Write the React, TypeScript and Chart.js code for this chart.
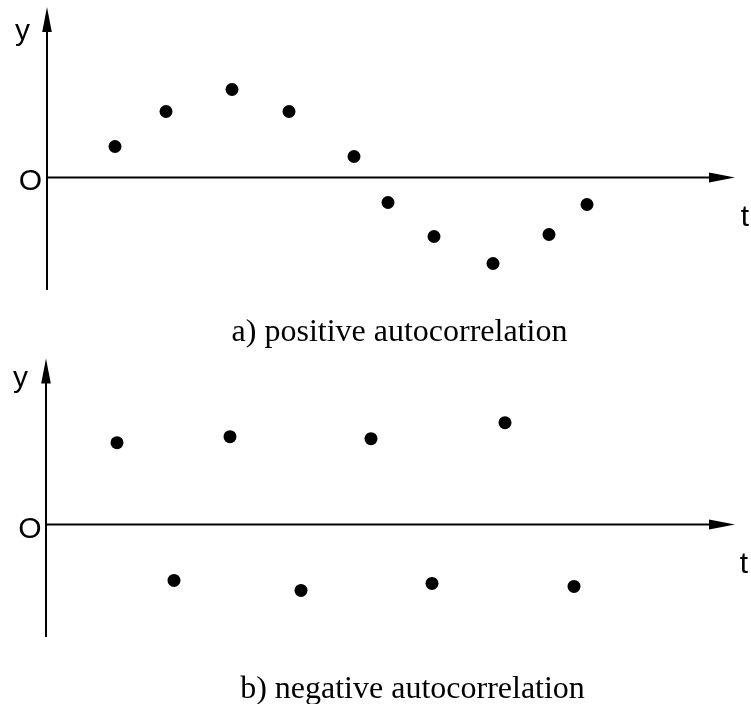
import React, { useEffect, useRef } from "react";
import { Chart, registerables } from "chart.js";

Chart.register(...registerables);

// ---- data ----
const topT = [6.8, 11.9, 18.5, 24.2, 30.7, 34.1, 38.7, 44.6, 50.2, 54.0];
const topY = [3.1, 6.6, 8.8, 6.6, 2.1, -2.5, -5.9, -8.6, -5.7, -2.7];
const bottomT = [7.1, 12.8, 18.4, 25.5, 32.5, 38.6, 45.9, 52.8];
const bottomY = [8.2, -5.6, 8.8, -6.6, 8.6, -5.9, 10.2, -6.2];
const axisLabels = { y: "y", origin: "O", t: "t" };
const titleTop = "a) positive autocorrelation";
const titleBottom = "b) negative autocorrelation";

const W = 751;
const H = 352;

type PanelCfg = {
  t: number[];
  y: number[];
  title: string;
  padding: { left: number; right: number; top: number; bottom: number };
  xMax: number;
  yMin: number;
  yMax: number;
  yLabel: [number, number];
  oLabel: [number, number];
  tLabel: [number, number];
  titlePos: [number, number];
};

const panels: PanelCfg[] = [
  {
    t: topT,
    y: topY,
    title: titleTop,
    padding: { left: 47, right: 16, top: 7, bottom: 62 },
    xMax: 68.8,
    yMin: -11.25,
    yMax: 17.05,
    yLabel: [22.5, 39.5],
    oLabel: [30.5, 190],
    tLabel: [745, 226],
    titlePos: [399.5, 341],
  },
  {
    t: bottomT,
    y: bottomY,
    title: titleBottom,
    padding: { left: 46, right: 16, top: 6, bottom: 67 },
    xMax: 68.9,
    yMin: -11.27,
    yMax: 16.63,
    yLabel: [20.5, 35],
    oLabel: [30, 186],
    tLabel: [744, 221],
    titlePos: [412.5, 346],
  },
];

const axesPlugin = {
  id: "axes",
  afterDraw(chart: any, _args: any, opts: any) {
    const ctx = chart.ctx as CanvasRenderingContext2D;
    const area = chart.chartArea;
    const xs = chart.scales.x;
    const ys = chart.scales.y;
    const x0 = xs.getPixelForValue(0);
    const y0 = ys.getPixelForValue(0);
    ctx.save();
    ctx.strokeStyle = "#000";
    ctx.fillStyle = "#000";
    ctx.lineWidth = 2;
    // y axis
    ctx.beginPath();
    ctx.moveTo(x0, area.bottom);
    ctx.lineTo(x0, area.top + 20);
    ctx.stroke();
    ctx.beginPath();
    ctx.moveTo(x0, area.top);
    ctx.lineTo(x0 - 4.8, area.top + 25);
    ctx.lineTo(x0 + 4.8, area.top + 25);
    ctx.closePath();
    ctx.fill();
    // x axis
    ctx.beginPath();
    ctx.moveTo(x0, y0);
    ctx.lineTo(area.right - 20, y0);
    ctx.stroke();
    ctx.beginPath();
    ctx.moveTo(area.right, y0);
    ctx.lineTo(area.right - 26, y0 - 5);
    ctx.lineTo(area.right - 26, y0 + 5);
    ctx.closePath();
    ctx.fill();
    // labels
    ctx.textAlign = "center";
    ctx.textBaseline = "alphabetic";
    ctx.font = '30px "Liberation Sans", Arial, sans-serif';
    ctx.fillText(axisLabels.y, opts.yLabel[0], opts.yLabel[1]);
    ctx.fillText(axisLabels.origin, opts.oLabel[0], opts.oLabel[1]);
    ctx.fillText(axisLabels.t, opts.tLabel[0], opts.tLabel[1]);
    ctx.font = '32px "Liberation Serif", "Times New Roman", serif';
    ctx.fillText(opts.title, opts.titlePos[0], opts.titlePos[1]);
    ctx.restore();
  },
};

function Panel({ cfg }: { cfg: PanelCfg }) {
  const ref = useRef<HTMLCanvasElement | null>(null);
  useEffect(() => {
    if (!ref.current) return;
    const chart = new Chart(ref.current, {
      type: "scatter",
      data: {
        datasets: [
          {
            data: cfg.t.map((t, i) => ({ x: t, y: cfg.y[i] })),
            backgroundColor: "#000",
            borderColor: "#000",
            borderWidth: 0,
            pointRadius: 6.5,
            pointHoverRadius: 6.5,
          },
        ],
      },
      options: {
        animation: false,
        responsive: false,
        events: [],
        layout: { padding: cfg.padding },
        scales: {
          x: { type: "linear", display: false, min: 0, max: cfg.xMax },
          y: { type: "linear", display: false, min: cfg.yMin, max: cfg.yMax },
        },
        plugins: {
          legend: { display: false },
          tooltip: { enabled: false },
          axes: {
            yLabel: cfg.yLabel,
            oLabel: cfg.oLabel,
            tLabel: cfg.tLabel,
            title: cfg.title,
            titlePos: cfg.titlePos,
          },
        } as any,
      },
      plugins: [axesPlugin],
    });
    return () => chart.destroy();
  }, [cfg]);
  return (
    <canvas
      ref={ref}
      width={W}
      height={H}
      style={{ display: "block", width: W, height: H }}
    />
  );
}

export default function App() {
  return (
    <div
      style={{
        position: "absolute",
        left: 0,
        top: 0,
        width: W,
        height: H * 2,
        background: "#fff",
      }}
    >
      {panels.map((p, i) => (
        <Panel key={i} cfg={p} />
      ))}
    </div>
  );
}
